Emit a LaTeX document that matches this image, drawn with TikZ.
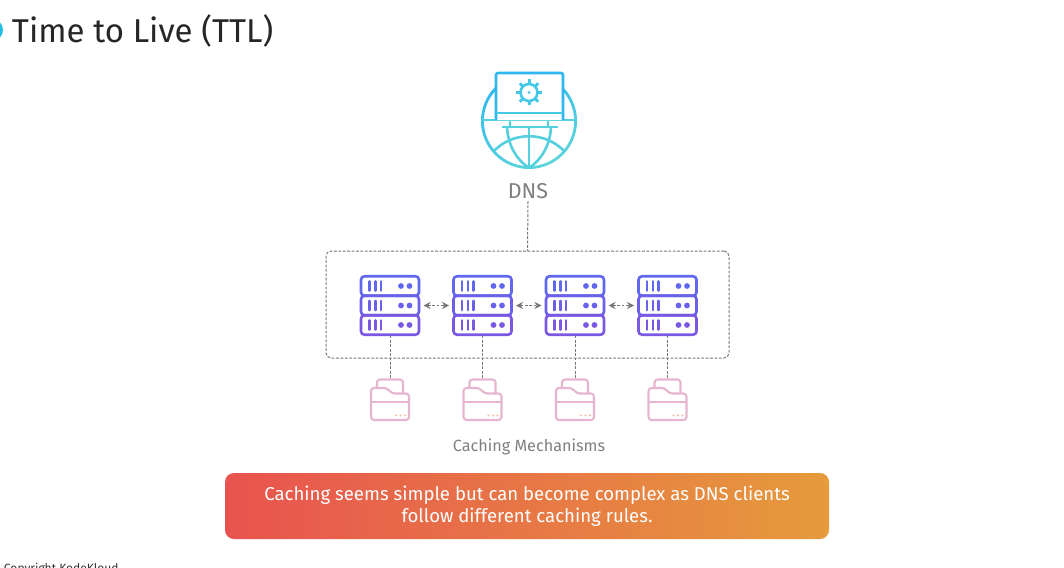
\documentclass[tikz,border=0pt]{standalone}
\usepackage{fontspec}
\setmainfont{Fira Sans}
\usetikzlibrary{arrows.meta}
\definecolor{skyA}{HTML}{2DB6EF}
\definecolor{skyB}{HTML}{45C8E6}
\definecolor{skyC}{HTML}{5FD6DB}
\definecolor{rackA}{HTML}{5F68EE}
\definecolor{rackB}{HTML}{6A60EA}
\definecolor{rackC}{HTML}{7B58E2}
\definecolor{folderpink}{HTML}{E6B5CF}
\definecolor{dashgray}{HTML}{777777}
\definecolor{labelgray}{HTML}{808080}
\definecolor{bannerL}{HTML}{E8534F}
\definecolor{bannerR}{HTML}{E69B3C}
\definecolor{bulletblue}{HTML}{22BDE3}

\begin{document}
\begin{tikzpicture}[x=1pt,y=-1pt,
    hidden/.style={inner sep=0pt,outer sep=0pt},
    link/.style={dashgray,line width=1pt,dash pattern=on 2.8pt off 1.6pt},
    twoway/.style={link,{Stealth[length=7pt,width=7pt]}-{Stealth[length=7pt,width=7pt]},shorten >=3.5pt,shorten <=3.5pt},
    rackunit/.style={draw,rounded corners=3.5pt,line width=2.6pt,minimum width=58pt,minimum height=19.5pt,inner sep=0pt},
    iconline/.style={line width=2.6pt},
    folderline/.style={folderpink,line width=2.1pt,rounded corners=3pt,line join=round}]
  \clip (0,0) rectangle (1064,567);
  \fill[white] (0,0) rectangle (1064,567);

  % heading
  \fill[bulletblue] (-8,30) circle (11);
  \node[hidden,anchor=west,text=black!85,font=\fontsize{33}{38}\selectfont] (title) at (12,30.5) {Time to Live (TTL)};

  % globe and laptop
  \shade[left color=skyA,right color=skyC,shading angle=25,even odd rule] (529,121) circle (48) circle (45.2);
  \begin{scope}[iconline,skyC!60!skyB]
    \draw (482,120) -- (577,120);
    \draw (502,127) -- (558,127);
    \draw (510,120) -- (510,127);
    \draw (548,120) -- (548,127);
    \draw (529,127) -- (529,168);
    \draw (507,127) .. controls (508,146) and (517,160) .. (529,168);
    \draw (551,127) .. controls (550,146) and (541,160) .. (529,168);
    \draw (493,152) .. controls (512,131) and (546,131) .. (565,152);
  \end{scope}
  \draw[iconline,skyA,fill=white,rounded corners=2pt] (496,120) -- (496,73) -- (563,73) -- (563,120);
  \draw[iconline,skyB] (496,113) -- (563,113);
  \draw[iconline,skyB,fill=white] (529,92.5) circle (8.5);
  \fill[skyB] (529,92.5) circle (1.6);
  \foreach \a in {0,45,...,315}
     \draw[line width=3pt,skyB] (529,92.5) ++(\a:9) -- ++(\a:4);
  \node[hidden,text=labelgray,font=\fontsize{21.5}{25}\selectfont] (dns) at (528,191) {DNS};

  % cluster
  \node[draw=dashgray,link,rounded corners=5pt,minimum width=403pt,minimum height=107pt,hidden] (cluster) at (527.5,304.5) {};
  \draw[link] (528,201) -- (cluster.north);

  \foreach \i/\x in {1/390,2/482.5,3/575,4/667.5} {
    \node[hidden,minimum width=60pt,minimum height=60pt] (srv\i) at (\x,305.5) {};
    \node[rackunit,rackA] (srv\i a) at (\x,286) {};
    \node[rackunit,rackB] (srv\i b) at (\x,305.5) {};
    \node[rackunit,rackC] (srv\i c) at (\x,325) {};
    \foreach \y/\c in {286/rackA,305.5/rackB,325/rackC} {
      \foreach \d in {-20.5,-14.5,-9}
         \draw[\c,line width=2.6pt,line cap=round] (\x+\d,\y-4.6) -- (\x+\d,\y+4.6);
      \fill[\c] (\x+11,\y) circle (2.9);
      \fill[\c] (\x+19.5,\y) circle (2.9);
    }
    % folders
    \node[hidden,minimum width=38pt,minimum height=41pt] (fld\i) at (\x,399.5) {};
    \begin{scope}[shift={(\x,399.5)}]
      \draw[folderline] (-13,-12) -- (-13,-20) -- (13,-20) -- (13,-6);
      \draw[folderline,fill=white] (-19,-11.5) -- (-3,-11.5) -- (2,-6) -- (19,-6) -- (19,20.5) -- (-19,20.5) -- cycle;
      \draw[folderpink,line width=2.1pt] (-19,2.5) -- (19,2.5);
      \foreach \d in {6,10.5,15}
         \fill[folderpink!60!orange!70] (\d,16) circle (1.1);
    \end{scope}
    \draw[link] (srv\i.south) -- (fld\i.north);
  }
  \foreach \a/\b in {srv1/srv2,srv2/srv3,srv3/srv4}
     \draw[twoway] (\a) -- (\b);
  \node[hidden,text=labelgray,font=\fontsize{16.2}{19}\selectfont] (caching) at (529,447) {Caching Mechanisms};

  % banner
  \node[hidden,rounded corners=9pt,minimum width=604pt,minimum height=66pt,left color=bannerL,right color=bannerR,
     text=white,align=center,font=\fontsize{18.6}{22}\selectfont] (banner) at (527,506)
     {Caching seems simple but can become complex as DNS clients\\follow different caching rules.};

  \node[hidden,anchor=west,text=black!80,font=\fontsize{12}{14}\selectfont] (copy) at (4,569) {Copyright KodeKloud};
\end{tikzpicture}
\end{document}
